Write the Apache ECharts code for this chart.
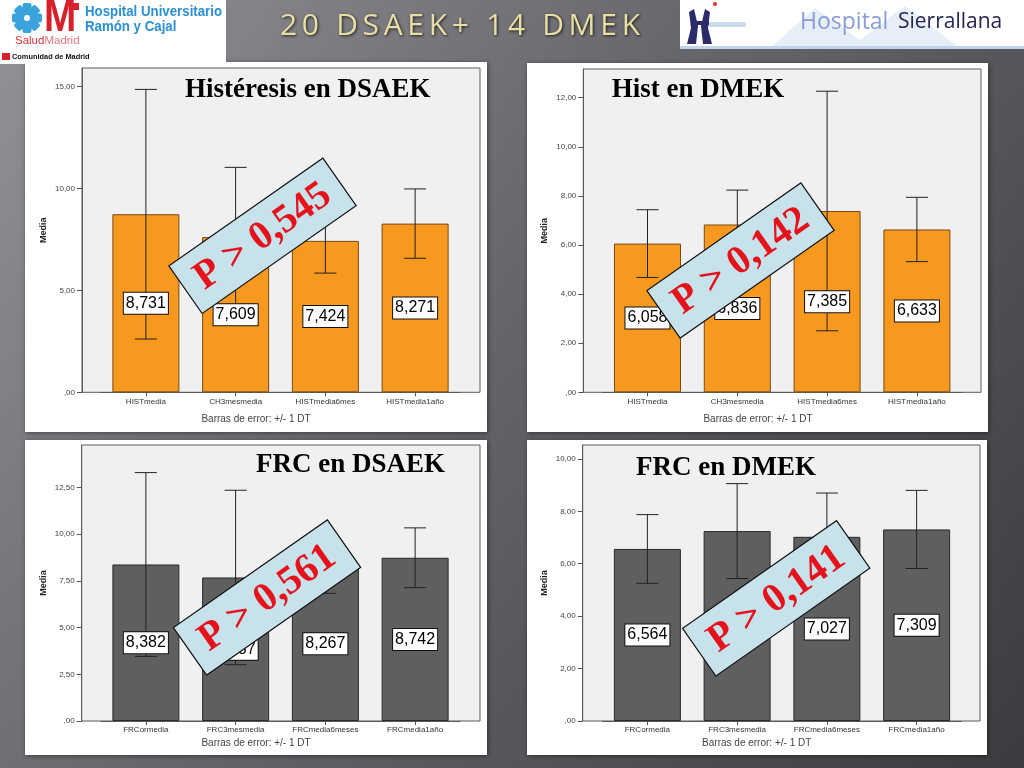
<!DOCTYPE html>
<html><head><meta charset="utf-8">
<script src="https://cdn.jsdelivr.net/npm/echarts@6/dist/echarts.min.js"></script>
<style>html,body{margin:0;padding:0;background:#5a5a5e;}#c{width:1024px;height:768px;}</style>
</head><body><div id="c"></div>
<script>
// ---------------- DATA ----------------
const histCategories = ['HISTmedia', 'CH3mesmedia', 'HISTmedia6mes', 'HISTmedia1año'];
const frcCategories = ['FRCormedia', 'FRC3mesmedia', 'FRCmedia6meses', 'FRCmedia1año'];
const histDsaekMean = [8.731, 7.609, 7.424, 8.271];
const histDsaekSD = [6.12, 3.42, 1.58, 1.70];
const histDmekMean = [6.058, 6.836, 7.385, 6.633];
const histDmekSD = [1.38, 1.40, 4.88, 1.31];
const frcDsaekMean = [8.382, 7.687, 8.267, 8.742];
const frcDsaekSD = [4.92, 4.67, 1.43, 1.60];
const frcDmekMean = [6.564, 7.246, 7.027, 7.309];
const frcDmekSD = [1.31, 1.81, 1.67, 1.49];
const histDsaekTicks = [0, 5, 10, 15];
const histDmekTicks = [0, 2, 4, 6, 8, 10, 12];
const frcDsaekTicks = [0, 2.5, 5, 7.5, 10, 12.5];
const frcDmekTicks = [0, 2, 4, 6, 8, 10];
const panelTitles = ['Histéresis en DSAEK', 'Hist en DMEK', 'FRC en DSAEK', 'FRC en DMEK'];
const pValueTexts = ['P > 0,545', 'P > 0,142', 'P > 0,561', 'P > 0,141'];
const slideTitle = '20 DSAEK+ 14 DMEK';
const yAxisName = 'Media';
const errorNote = 'Barras de error: +/- 1 DT';

// ---------------- LAYOUT ----------------
const ORANGE = '#f7981f', ORANGE_B = '#7a4a16', GREY = '#5f5f5f', GREY_B = '#2a2a2a';
const panels = [
  { cats: histCategories, mean: histDsaekMean, sd: histDsaekSD, ticks: histDsaekTicks, max: 15.9,
    color: ORANGE, border: ORANGE_B, frame: [82, 68, 480, 392.3], grid: [101, 68, 359, 324.3],
    panel: [25, 62, 487, 432], title: [185, 90], note: [256, 419], pbox: [262.5, 235.8] },
  { cats: histCategories, mean: histDmekMean, sd: histDmekSD, ticks: histDmekTicks, max: 13.17,
    color: ORANGE, border: ORANGE_B, frame: [583.3, 69, 981, 392.3], grid: [602.6, 69, 359.2, 323.3],
    panel: [527, 63, 988, 432], title: [611.7, 90], note: [758, 419], pbox: [740.5, 260.5] },
  { cats: frcCategories, mean: frcDsaekMean, sd: frcDsaekSD, ticks: frcDsaekTicks, max: 14.78,
    color: GREY, border: GREY_B, frame: [81.7, 445, 480, 721], grid: [101, 445, 359, 276],
    panel: [25, 440, 487, 755], title: [256, 465], note: [256, 743.3], pbox: [267, 597.5] },
  { cats: frcCategories, mean: frcDmekMean, sd: frcDmekSD, ticks: frcDmekTicks, max: 10.53,
    color: GREY, border: GREY_B, frame: [582.7, 445, 980, 721], grid: [602.5, 445, 359, 276],
    panel: [527, 440, 987, 755], title: [636, 468], note: [756.7, 743.3], pbox: [776.2, 598.3] }
];

const SANS = '"Liberation Sans", Arial, sans-serif';
const SERIF = '"Liberation Serif", "Times New Roman", serif';
const fmt = v => v === 0 ? ',00' : v.toFixed(2).replace('.', ',');
const fmtVal = v => v.toFixed(3).replace('.', ',');

const graphics = [];
// slide background
graphics.push({ type: 'rect', z: -30, shape: { x: 0, y: 0, width: 1024, height: 768 },
  style: { fill: { type: 'linear', x: 0, y: 0, x2: 1, y2: 1, colorStops: [
    { offset: 0, color: '#929297' }, { offset: 0.45, color: '#66666b' }, { offset: 1, color: '#3c3c40' }] } } });

panels.forEach((p, i) => {
  graphics.push({ type: 'rect', z: -20, shape: { x: p.panel[0], y: p.panel[1], width: p.panel[2] - p.panel[0], height: p.panel[3] - p.panel[1] },
    style: { fill: '#ffffff', shadowBlur: 5, shadowColor: 'rgba(0,0,0,0.45)', shadowOffsetX: 1, shadowOffsetY: 1 } });
  graphics.push({ type: 'rect', z: -10, shape: { x: p.frame[0], y: p.frame[1], width: p.frame[2] - p.frame[0], height: p.frame[3] - p.frame[1] },
    style: { fill: '#f0f0f0', stroke: '#5a5a5a', lineWidth: 1 } });
  graphics.push({ type: 'text', z: 20, x: p.title[0], y: p.title[1],
    style: { text: panelTitles[i], font: 'bold 27px ' + SERIF, fill: '#000', align: 'left', verticalAlign: 'middle' } });
  graphics.push({ type: 'text', z: 20, x: p.note[0], y: p.note[1],
    style: { text: errorNote, font: '10px ' + SANS, fill: '#444', align: 'center', verticalAlign: 'middle' } });
  // rotated p-value box
  graphics.push({ type: 'group', x: p.pbox[0], y: p.pbox[1], rotation: 35 * Math.PI / 180, z: 100, children: [
    { type: 'rect', z: 100, shape: { x: -94, y: -29, width: 188, height: 58 },
      style: { fill: '#c7e2eb', stroke: '#111', lineWidth: 1.2 } },
    { type: 'text', z: 101, x: 0, y: 1,
      style: { text: pValueTexts[i], font: 'bold 40px ' + SERIF, fill: '#e5121c', align: 'center', verticalAlign: 'middle' } }
  ] });
});

// left logo
graphics.push({ type: 'rect', z: 50, shape: { x: 0, y: 0, width: 226, height: 64 }, style: { fill: '#fff' } });
[0, 45, 90, 135].forEach(a => {
  graphics.push({ type: 'rect', z: 51, x: 27, y: 18, rotation: a * Math.PI / 180,
    shape: { x: -15, y: -4.5, width: 30, height: 9, r: 2 }, style: { fill: '#3aa3dc' } });
});
graphics.push({ type: 'circle', z: 52, shape: { cx: 27, cy: 18, r: 3 }, style: { fill: '#fff' } });
graphics.push({ type: 'text', z: 51, x: 44, y: 19, scaleX: 0.88,
  style: { text: 'M', font: 'bold 44px ' + SANS, fill: '#d6202b', align: 'left', verticalAlign: 'middle' } });
graphics.push({ type: 'rect', z: 51, shape: { x: 69, y: 3, width: 10, height: 7 }, style: { fill: '#d6202b' } });
graphics.push({ type: 'text', z: 51, x: 85, y: 12, scaleX: 0.884,
  style: { text: 'Hospital Universitario', font: 'bold 15px ' + SANS, fill: '#2c8fd3', align: 'left', verticalAlign: 'middle' } });
graphics.push({ type: 'text', z: 51, x: 85, y: 27, scaleX: 0.884,
  style: { text: 'Ramón y Cajal', font: 'bold 15px ' + SANS, fill: '#2c8fd3', align: 'left', verticalAlign: 'middle' } });
graphics.push({ type: 'text', z: 51, x: 15, y: 41,
  style: { text: '{a|Salud}{b|Madrid}', align: 'left', verticalAlign: 'middle',
    rich: { a: { font: '11.5px ' + SANS, fill: '#de2f38' }, b: { font: '11.5px ' + SANS, fill: '#e8787e' } } } });
graphics.push({ type: 'rect', z: 51, shape: { x: 2, y: 53, width: 8, height: 7 }, style: { fill: '#d6202b' } });
graphics.push({ type: 'text', z: 51, x: 12, y: 57,
  style: { text: 'Comunidad de Madrid', font: 'bold 7.4px ' + SANS, fill: '#111', align: 'left', verticalAlign: 'middle' } });

// right logo
graphics.push({ type: 'rect', z: 50, shape: { x: 680, y: 0, width: 344, height: 49 }, style: { fill: '#fff' } });
graphics.push({ type: 'polygon', z: 51, shape: { points: [[770, 48], [815, 8], [860, 40], [905, 6], [960, 48]] }, style: { fill: '#e6eff8' } });
graphics.push({ type: 'rect', z: 51, shape: { x: 680, y: 46, width: 344, height: 3 }, style: { fill: '#c2d4ea' } });
graphics.push({ type: 'rect', z: 51, shape: { x: 708, y: 22, width: 38, height: 5, r: 2 }, style: { fill: '#cbdaee' } });
graphics.push({ type: 'polygon', z: 52, shape: { points: [[687, 44], [691, 28], [689, 12], [694, 9], [698, 26], [696, 44]] }, style: { fill: '#2b2b6b' } });
graphics.push({ type: 'polygon', z: 52, shape: { points: [[712, 44], [708, 28], [710, 12], [705, 9], [701, 26], [703, 44]] }, style: { fill: '#2b2b6b' } });
graphics.push({ type: 'rect', z: 52, shape: { x: 691, y: 21, width: 18, height: 4 }, style: { fill: '#2b2b6b' } });
graphics.push({ type: 'circle', z: 52, shape: { cx: 715, cy: 4, r: 2 }, style: { fill: '#e03030' } });
graphics.push({ type: 'text', z: 52, x: 800, y: 22,
  style: { text: 'Hospital', font: '23px "Open Sans", sans-serif', fill: '#8a9bd6', align: 'left', verticalAlign: 'middle' } });
graphics.push({ type: 'text', z: 52, x: 898, y: 22,
  style: { text: 'Sierrallana', font: '21px "Open Sans", sans-serif', fill: '#25254f', align: 'left', verticalAlign: 'middle' } });

// slide title, letter-spaced
(function () {
  const font = '30px "Open Sans", sans-serif';
  const ctx = document.createElement('canvas').getContext('2d');
  ctx.font = font;
  const chars = slideTitle.split('');
  const widths = chars.map(c => ctx.measureText(c).width);
  const total = widths.reduce((a, b) => a + b, 0);
  const x0 = 280, x1 = 640;
  const sp = (x1 - x0 - total) / (chars.length - 1);
  let x = x0;
  chars.forEach((c, k) => {
    if (c !== ' ') {
      graphics.push({ type: 'text', z: 40, x: x, y: 26,
        style: { text: c, font: font, fill: '#e9dfa4', align: 'left', verticalAlign: 'middle',
          textShadowColor: 'rgba(0,0,0,0.75)', textShadowBlur: 3, textShadowOffsetX: 1, textShadowOffsetY: 1 } });
    }
    x += widths[k] + sp;
  });
})();

// ---------------- CHART ----------------
const errorRender = (params, api) => {
  const i = api.value(0), m = api.value(1), s = api.value(2);
  const top = api.coord([i, m + s]);
  const bot = api.coord([i, m - s]);
  const mid = api.coord([i, m / 2]);
  const cap = 11;
  const ls = { stroke: '#222', lineWidth: 1 };
  return { type: 'group', children: [
    { type: 'line', shape: { x1: top[0], y1: top[1], x2: bot[0], y2: bot[1] }, style: ls },
    { type: 'line', shape: { x1: top[0] - cap, y1: top[1], x2: top[0] + cap, y2: top[1] }, style: ls },
    { type: 'line', shape: { x1: bot[0] - cap, y1: bot[1], x2: bot[0] + cap, y2: bot[1] }, style: ls },
    { type: 'text', x: mid[0], y: mid[1],
      style: { text: fmtVal(m), font: '16px ' + SANS, fill: '#000', align: 'center', verticalAlign: 'middle',
        backgroundColor: '#fff', borderColor: '#111', borderWidth: 1, padding: [3, 2, 2, 2] } }
  ] };
};

const option = {
  animation: false,
  graphic: { elements: graphics },
  grid: panels.map(p => ({ left: p.grid[0], top: p.grid[1], width: p.grid[2], height: p.grid[3] })),
  xAxis: panels.map((p, i) => ({
    type: 'category', gridIndex: i, data: p.cats, boundaryGap: true,
    axisLine: { show: true, lineStyle: { color: '#5a5a5a', width: 1 } },
    axisTick: { show: true, alignWithLabel: true, length: 4, lineStyle: { color: '#555' } },
    axisLabel: { fontSize: 8, fontFamily: 'Liberation Sans', color: '#333', margin: 5, interval: 0 },
    splitLine: { show: false }
  })),
  yAxis: panels.map((p, i) => ({
    type: 'value', gridIndex: i, min: 0, max: p.max, offset: p.grid[0] - p.frame[0],
    name: yAxisName, nameLocation: 'middle', nameGap: 34,
    nameTextStyle: { fontSize: 9, fontWeight: 'bold', fontFamily: 'Liberation Sans', color: '#222' },
    axisLine: { show: true, lineStyle: { color: '#5a5a5a' } },
    axisTick: { show: true, length: 5, customValues: p.ticks, lineStyle: { color: '#555' } },
    axisLabel: { customValues: p.ticks, fontSize: 8, fontFamily: 'Liberation Sans', color: '#444', margin: 7, formatter: fmt },
    splitLine: { show: false }
  })),
  series: [
    ...panels.map((p, i) => ({
      type: 'bar', xAxisIndex: i, yAxisIndex: i, data: p.mean, barWidth: 67, z: 2,
      itemStyle: { color: p.color, borderColor: p.border, borderWidth: 1 }
    })),
    ...panels.map((p, i) => ({
      type: 'custom', xAxisIndex: i, yAxisIndex: i, z: 3,
      data: p.mean.map((m, j) => [j, m, p.sd[j]]),
      encode: { x: 0, y: 1 },
      renderItem: errorRender
    }))
  ]
};
const chart = echarts.init(document.getElementById('c'), null, { renderer: 'canvas' });
chart.setOption(option);
</script>
</body></html>
